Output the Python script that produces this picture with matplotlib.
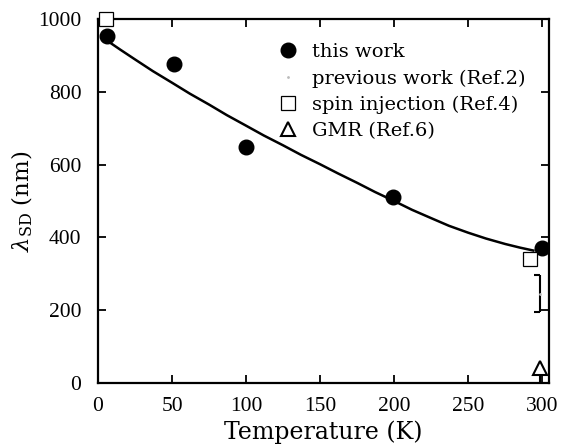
import matplotlib
matplotlib.use('Agg')
import matplotlib.pyplot as plt
from matplotlib.path import Path

plt.rcParams['font.family'] = ['Liberation Serif', 'DejaVu Serif']
plt.rcParams['mathtext.fontset'] = 'dejavuserif'

# this work
work_T = [6, 51, 100, 199, 300]
work_val = [953, 877, 649, 510, 372]

# previous work (Ref.2) with error bar
prev_T = [298.5]
prev_val = [245]
prev_lo = [195]
prev_hi = [296]

# spin injection (Ref.4)
spin_T = [5.5, 292]
spin_val = [1000, 342]

# GMR (Ref.6)
gmr_T = [298.5]
gmr_val = [41]

# fitted curve
fit_T = [6, 15, 25, 37, 50, 62, 75, 87, 100, 112, 125, 137, 150, 162, 175,
         187, 200, 212, 225, 237, 250, 262, 275, 285, 294]
fit_val = [941, 916, 889, 857, 825, 795, 765, 736, 707, 680, 653, 627, 601,
           576, 550, 525, 500, 476, 453, 432, 413, 397, 382, 372, 364]

fig = plt.figure(figsize=(5.65, 4.48), dpi=100)
ax = fig.add_axes([0.1735, 0.145, 0.798, 0.8125])

ax.plot(fit_T, fit_val, color='black', lw=1.8, zorder=2)
ax.plot(work_T, work_val, 'o', color='black', ms=10.5, zorder=3, label='this work')

# half caps on the left side of the error bar
ax.vlines(prev_T, prev_lo, prev_hi, color='black', lw=1.5)
left_cap = Path([(-1, 0), (0, 0)])
ax.plot(prev_T * 2, prev_lo + prev_hi, linestyle='none', marker=left_cap,
        ms=9, mew=1.5, color='black')
ax.plot(prev_T, prev_val, '.', color='#bbbbbb', ms=2, label='previous work (Ref.2)')

ax.plot(spin_T, spin_val, 's', mfc='white', mec='black', mew=0.9, ms=10,
        clip_on=False, zorder=4, label='spin injection (Ref.4)')

ax.vlines(gmr_T, [0], gmr_val, color='black', lw=1.5)
ax.plot(gmr_T, gmr_val, '^', mfc='white', mec='black', mew=1.5, ms=10,
        zorder=4, label='GMR (Ref.6)')

ax.set_xlim(0, 304.5)
ax.set_ylim(0, 1000)
ax.set_xticks([0, 50, 100, 150, 200, 250, 300])
ax.set_yticks([0, 200, 400, 600, 800, 1000])
ax.tick_params(direction='in', length=6, width=1.3, top=True, right=True,
               labelsize=15.5)
ax.tick_params(axis='x', pad=10)
ax.tick_params(axis='y', pad=12)
for s in ax.spines.values():
    s.set_linewidth(1.6)

ax.set_xlabel('Temperature (K)', fontsize=17, family='DejaVu Serif', labelpad=3)
ax.set_ylabel(r'$\lambda_{\mathrm{SD}}$ (nm)', fontsize=16.5, family='DejaVu Serif',
              labelpad=2)

leg = ax.legend(loc='upper left', bbox_to_anchor=(0.383, 0.955), frameon=False,
                prop={'family': 'DejaVu Serif', 'size': 14},
                handlelength=1.0, handletextpad=0.72,
                labelspacing=0.42, borderaxespad=0)

plt.savefig('out.png', dpi=100)
